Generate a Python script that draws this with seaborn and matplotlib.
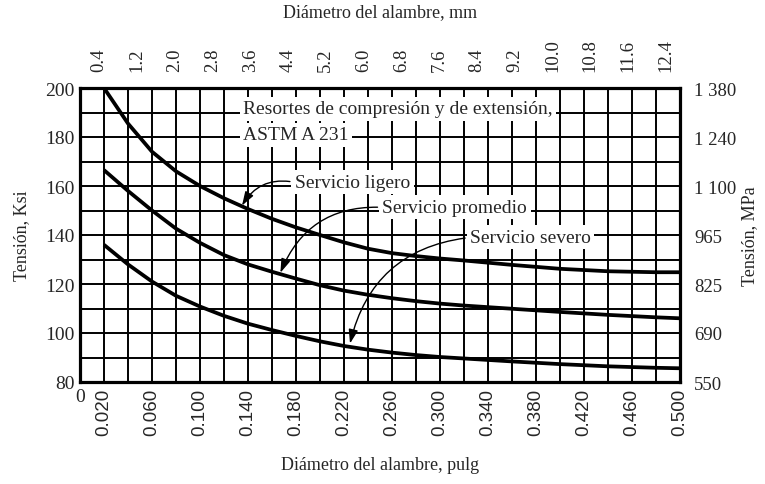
import matplotlib
matplotlib.use("Agg")
import matplotlib.pyplot as plt
import seaborn as sns
import pandas as pd
import numpy as np

# ---- data ----
x_pulg = [0.02, 0.04, 0.06, 0.08, 0.10, 0.12, 0.14, 0.16, 0.18, 0.20, 0.22,
          0.24, 0.26, 0.28, 0.30, 0.32, 0.36, 0.40, 0.44, 0.48, 0.50]
ligero = [200, 185.5, 174, 166, 160, 155, 150.6, 146.6, 143.1, 140, 137,
          134.4, 132.6, 131.4, 130.4, 129.6, 127.8, 126.2, 125.2, 124.8, 124.8]
promedio = [166.5, 158, 150, 142.6, 136.8, 131.8, 128, 125, 122.2, 119.5, 117.3,
            115.6, 114.2, 113, 112, 111.2, 109.9, 108.6, 107.4, 106.4, 106]
severo = [136, 128, 121, 115.2, 110.8, 107, 103.8, 101.2, 98.8, 96.6, 94.7,
          93.2, 92, 91, 90.2, 89.6, 88.4, 87.3, 86.4, 85.8, 85.6]
series_names = ["Servicio ligero", "Servicio promedio", "Servicio severo"]

bottom_ticks = [0.0, 0.02, 0.06, 0.10, 0.14, 0.18, 0.22, 0.26, 0.30, 0.34, 0.38, 0.42, 0.46, 0.50]
bottom_labels = ["0", "0.020", "0.060", "0.100", "0.140", "0.180", "0.220", "0.260",
                 "0.300", "0.340", "0.380", "0.420", "0.460", "0.500"]
mm_ticks = [0.4, 1.2, 2.0, 2.8, 3.6, 4.4, 5.2, 6.0, 6.8, 7.6, 8.4, 9.2, 10.0, 10.8, 11.6, 12.4]
mm_labels = ["0.4", "1.2", "2.0", "2.8", "3.6", "4.4", "5.2", "6.0", "6.8", "7.6",
             "8.4", "9.2", "10.0", "10.8", "11.6", "12.4"]
ksi_ticks = [80, 100, 120, 140, 160, 180, 200]
mpa_labels = ["550", "690", "825", "965", "1 100", "1 240", "1 380"]

df = pd.DataFrame({
    "x": x_pulg * 3,
    "y": ligero + promedio + severo,
    "serie": sum([[n] * len(x_pulg) for n in series_names], []),
})

sns.set_style("white")
SERIF = ["Liberation Serif", "DejaVu Serif"]
plt.rcParams["font.family"] = SERIF

fig = plt.figure(figsize=(7.65, 4.85), dpi=100)
ax = fig.add_axes([80 / 765, 1 - 383 / 485, 600 / 765, 294 / 485])

ax.set_xlim(0, 0.5)
ax.set_ylim(80, 200)

# grid
ax.set_xticks(np.arange(0, 0.5001, 0.02), minor=True)
ax.set_yticks(np.arange(80, 200.1, 10), minor=True)
ax.grid(which="both", color="black", linewidth=1.4, zorder=0)
ax.set_axisbelow(True)

sns.lineplot(data=df, x="x", y="y", hue="serie", palette=["black"] * 3,
             legend=False, linewidth=2.7, ax=ax, zorder=3)
for ln in ax.lines:
    ln.set_solid_joinstyle("round")
    ln.set_solid_capstyle("butt")
ax.set_xlabel("")
ax.set_ylabel("")

ax.set_xticks(bottom_ticks)
ax.set_xticklabels(bottom_labels, family=["Liberation Sans", "DejaVu Sans"], fontsize=13.5)
for i, lab in enumerate(ax.get_xticklabels()):
    if i == 0:
        lab.set_rotation(0)
        lab.set_family(SERIF)
        lab.set_fontsize(14)
    else:
        lab.set_rotation(90)
ax.set_yticks(ksi_ticks)
ax.set_yticklabels([str(v) for v in ksi_ticks], fontsize=14)
ax.tick_params(which="both", length=0, pad=4)

for s in ax.spines.values():
    s.set_linewidth(2.3)
    s.set_color("black")

# right axis (MPa)
ax2 = ax.twinx()
ax2.set_ylim(ax.get_ylim())
ax2.set_yticks(ksi_ticks)
ax2.set_yticklabels(mpa_labels, fontsize=13.5)
ax2.tick_params(length=0, pad=10)
for s in ax2.spines.values():
    s.set_visible(False)

# top axis (mm)
ax3 = ax.twiny()
ax3.set_xlim(0, 0.5 * 25.4)
ax3.set_xticks(mm_ticks)
ax3.set_xticklabels(mm_labels, rotation=90, fontsize=13.5)
ax3.tick_params(length=0, pad=12)
for s in ax3.spines.values():
    s.set_visible(False)

# axis titles
fig.text(380 / 765, 1 - 13 / 485, "Diámetro del alambre, mm", ha="center", va="center", fontsize=13)
fig.text(380 / 765, 1 - 466 / 485, "Diámetro del alambre, pulg", ha="center", va="center", fontsize=13)
fig.text(22 / 765, 1 - 236 / 485, "Tensión, Ksi", rotation=90, ha="center", va="center", fontsize=13)
fig.text(750 / 765, 1 - 236 / 485, "Tensión, MPa", rotation=90, ha="center", va="center", fontsize=13)

# title box
wb = dict(facecolor="white", edgecolor="none", pad=2.5)
ax.text(0.136, 191.6, "Resortes de compresión y de extensión,", fontsize=14,
        ha="left", va="center", bbox=wb, zorder=5)
ax.text(0.136, 181.0, "ASTM A 231", fontsize=14, ha="left", va="center", bbox=wb, zorder=5)

# curve labels with arrows
arrow = dict(arrowstyle="-|>,head_length=0.6,head_width=0.2", color="black", lw=1.0,
             relpos=(0, 0.5), shrinkA=1, shrinkB=0)
ax.annotate(series_names[0], xy=(0.135, 152.0), xytext=(0.179, 161.5), fontsize=14,
            ha="left", va="center", bbox=wb, zorder=6,
            arrowprops=dict(arrow, connectionstyle="arc3,rad=0.35"))
ax.annotate(series_names[1], xy=(0.167, 124.6), xytext=(0.252, 151.3), fontsize=14,
            ha="left", va="center", bbox=wb, zorder=6,
            arrowprops=dict(arrow, connectionstyle="arc3,rad=0.35"))
ax.annotate(series_names[2], xy=(0.225, 95.7), xytext=(0.325, 139.0), fontsize=14,
            ha="left", va="center", bbox=wb, zorder=6,
            arrowprops=dict(arrow, connectionstyle="arc3,rad=0.35"))

fig.savefig("out.png", dpi=100, facecolor="white")
